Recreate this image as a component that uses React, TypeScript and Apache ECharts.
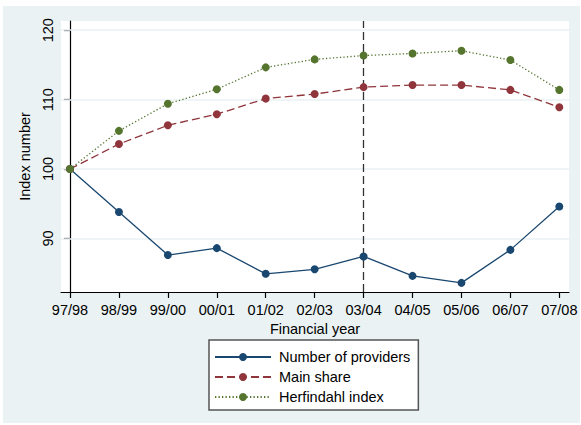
import React, { useEffect, useRef } from "react";
import * as echarts from "echarts";

const categories = ["97/98", "98/99", "99/00", "00/01", "01/02", "02/03", "03/04", "04/05", "05/06", "06/07", "07/08"];
const providers = [100, 93.8, 87.6, 88.6, 84.9, 85.55, 87.4, 84.6, 83.6, 88.35, 94.6];
const mainShare = [100, 103.6, 106.3, 107.9, 110.15, 110.8, 111.8, 112.1, 112.1, 111.4, 108.9];
const herfindahl = [100, 105.5, 109.4, 111.5, 114.65, 115.8, 116.35, 116.65, 117.05, 115.7, 111.4];
const yTicks = [90, 100, 110, 120];
const markerYear = "03/04";

const FONT = "'Liberation Sans', Arial, sans-serif";
const toPairs = (arr: number[]) => arr.map((v, i) => [i, v]);

export default function App() {
  const ref = useRef<HTMLDivElement>(null);
  useEffect(() => {
    if (!ref.current) return;
    const chart = echarts.init(ref.current, null, { renderer: "svg" });
    const idx = categories.map((_, i) => i);
    chart.setOption({
      animation: false,
      backgroundColor: "transparent",
      textStyle: { fontFamily: FONT, color: "#000" },
      grid: { left: 61, top: 21, right: 12, bottom: 133, show: true, backgroundColor: "#fff", borderWidth: 0 },
      xAxis: {
        type: "value",
        min: -0.184,
        max: 10.198,
        name: "Financial year",
        nameLocation: "middle",
        nameGap: 24,
        nameTextStyle: { fontFamily: FONT, fontSize: 14.5, color: "#000" },
        axisLine: { show: true, lineStyle: { color: "#000", width: 1.2 } },
        axisTick: { show: true, length: 6, customValues: idx, lineStyle: { color: "#000", width: 1.2 } },
        axisLabel: {
          customValues: idx,
          margin: 10,
          fontFamily: FONT,
          fontSize: 14.5,
          color: "#000",
          formatter: (v: number) => categories[Math.round(v)] ?? "",
        },
        splitLine: { show: false },
      },
      yAxis: {
        type: "value",
        min: 82.28,
        max: 121.33,
        name: "Index number",
        nameLocation: "middle",
        nameRotate: 90,
        nameGap: 19,
        nameTextStyle: { fontFamily: FONT, fontSize: 14.5, color: "#000" },
        axisLine: { show: true, lineStyle: { color: "#000", width: 1.2 } },
        axisTick: { show: true, length: 6, customValues: yTicks, lineStyle: { color: "#000", width: 1.2 } },
        axisLabel: {
          customValues: yTicks,
          rotate: 90,
          margin: 6,
          fontFamily: FONT,
          fontSize: 14.5,
          color: "#000",
        },
        splitLine: { show: false },
      },
      legend: {
        orient: "vertical",
        left: 209,
        top: 340,
        padding: [9, 8, 5, 5],
        itemGap: 4,
        itemWidth: 56,
        itemHeight: 10,
        backgroundColor: "#fff",
        borderColor: "#555",
        borderWidth: 1.5,
        borderRadius: 0,
        data: ["Number of providers", "Main share", "Herfindahl index"],
        textStyle: { fontFamily: FONT, fontSize: 14.5, lineHeight: 16, color: "#000", padding: [0, 0, 0, 3] },
      },
      series: [
        {
          name: "Number of providers",
          type: "line",
          data: toPairs(providers),
          symbol: "circle",
          symbolSize: 8,
          color: "#1A476F",
          lineStyle: { color: "#1A476F", width: 1.3, type: "solid" },
          itemStyle: { color: "#1A476F" },
          z: 3,
          markLine: {
            silent: true,
            symbol: "none",
            z: 1,
            label: { show: false },
            data: [
              ...yTicks.map((v) => ({ yAxis: v, lineStyle: { color: "#EAF2F3", width: 1.5, type: "solid" } })),
              { xAxis: categories.indexOf(markerYear), lineStyle: { color: "#333", width: 1.3, type: [8, 4] } },
            ],
          },
        },
        {
          name: "Main share",
          type: "line",
          data: toPairs(mainShare),
          symbol: "circle",
          symbolSize: 8,
          color: "#90353B",
          lineStyle: { color: "#90353B", width: 1.3, type: [8, 4] },
          itemStyle: { color: "#90353B" },
          z: 3,
        },
        {
          name: "Herfindahl index",
          type: "line",
          data: toPairs(herfindahl),
          symbol: "circle",
          symbolSize: 8,
          color: "#55752F",
          lineStyle: { color: "#55752F", width: 1.3, type: [1.3, 2.2] },
          itemStyle: { color: "#55752F" },
          z: 3,
        },
      ],
    });
    return () => chart.dispose();
  }, []);

  return (
    <div style={{ position: "fixed", left: 0, top: 0, width: 581, height: 425, background: "#fff" }}>
      <div style={{ position: "absolute", left: 3, top: 6, width: 577, height: 417, background: "#EAF2F3" }} />
      <div ref={ref} style={{ position: "absolute", left: 0, top: 0, width: 581, height: 425 }} />
    </div>
  );
}
